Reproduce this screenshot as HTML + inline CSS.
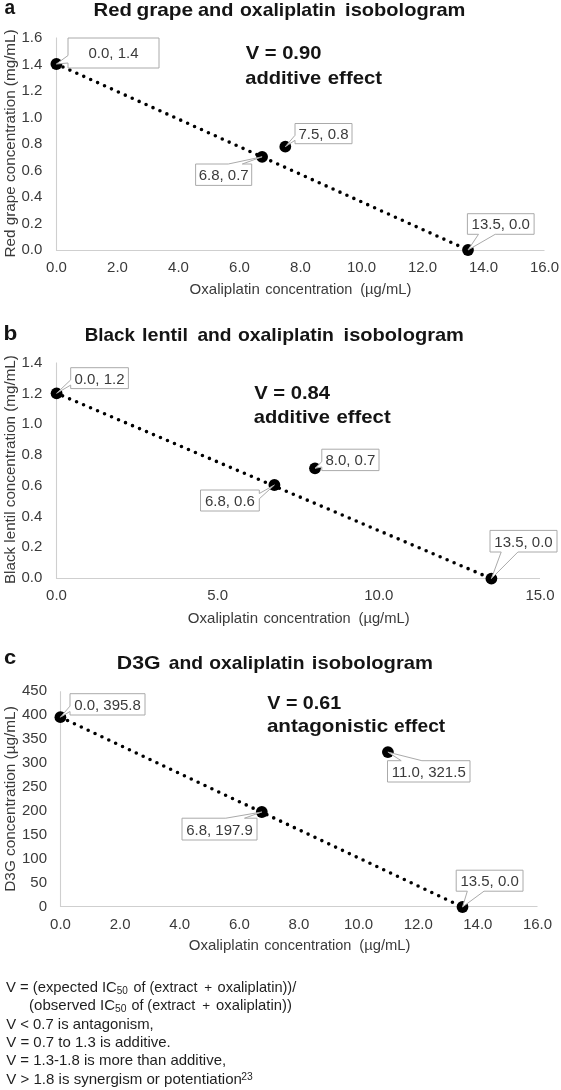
<!DOCTYPE html>
<html><head><meta charset="utf-8"><title>Isobolograms</title>
<style>
html,body{margin:0;padding:0;background:#fff;}
svg{display:block;font-family:"Liberation Sans",sans-serif;filter:grayscale(1);}
</style></head><body>
<svg width="561" height="1090" viewBox="0 0 561 1090">
<rect width="561" height="1090" fill="#fff"/>
<text x="4.44" y="14.30" font-size="19.5" font-weight="bold" fill="#141414" textLength="10.64" lengthAdjust="spacingAndGlyphs">a</text>
<text x="93.54" y="15.80" font-size="18.5" font-weight="bold" fill="#141414" textLength="38.29" lengthAdjust="spacingAndGlyphs">Red</text>
<text x="136.44" y="15.80" font-size="18.5" font-weight="bold" fill="#141414" textLength="56.77" lengthAdjust="spacingAndGlyphs">grape</text>
<text x="198.01" y="15.80" font-size="18.5" font-weight="bold" fill="#141414" textLength="35.50" lengthAdjust="spacingAndGlyphs">and</text>
<text x="240.04" y="15.80" font-size="18.5" font-weight="bold" fill="#141414" textLength="95.76" lengthAdjust="spacingAndGlyphs">oxaliplatin</text>
<text x="345.10" y="15.80" font-size="18.5" font-weight="bold" fill="#141414" textLength="120.34" lengthAdjust="spacingAndGlyphs">isobologram</text>
<path d="M56.5,37.5 V250.5 H544.5" fill="none" stroke="#cfcfcf" stroke-width="1.1"/>
<text x="56.50" y="272.00" font-size="15" text-anchor="middle" font-weight="normal" fill="#3a3a3a" >0.0</text>
<text x="117.50" y="272.00" font-size="15" text-anchor="middle" font-weight="normal" fill="#3a3a3a" >2.0</text>
<text x="178.50" y="272.00" font-size="15" text-anchor="middle" font-weight="normal" fill="#3a3a3a" >4.0</text>
<text x="239.50" y="272.00" font-size="15" text-anchor="middle" font-weight="normal" fill="#3a3a3a" >6.0</text>
<text x="300.50" y="272.00" font-size="15" text-anchor="middle" font-weight="normal" fill="#3a3a3a" >8.0</text>
<text x="361.50" y="272.00" font-size="15" text-anchor="middle" font-weight="normal" fill="#3a3a3a" >10.0</text>
<text x="422.50" y="272.00" font-size="15" text-anchor="middle" font-weight="normal" fill="#3a3a3a" >12.0</text>
<text x="483.50" y="272.00" font-size="15" text-anchor="middle" font-weight="normal" fill="#3a3a3a" >14.0</text>
<text x="544.50" y="272.00" font-size="15" text-anchor="middle" font-weight="normal" fill="#3a3a3a" >16.0</text>
<text x="42.40" y="254.00" font-size="15" text-anchor="end" font-weight="normal" fill="#3a3a3a" >0.0</text>
<text x="42.40" y="228.00" font-size="15" text-anchor="end" font-weight="normal" fill="#3a3a3a" >0.2</text>
<text x="42.40" y="201.00" font-size="15" text-anchor="end" font-weight="normal" fill="#3a3a3a" >0.4</text>
<text x="42.40" y="175.00" font-size="15" text-anchor="end" font-weight="normal" fill="#3a3a3a" >0.6</text>
<text x="42.40" y="148.00" font-size="15" text-anchor="end" font-weight="normal" fill="#3a3a3a" >0.8</text>
<text x="42.40" y="122.00" font-size="15" text-anchor="end" font-weight="normal" fill="#3a3a3a" >1.0</text>
<text x="42.40" y="95.00" font-size="15" text-anchor="end" font-weight="normal" fill="#3a3a3a" >1.2</text>
<text x="42.40" y="69.00" font-size="15" text-anchor="end" font-weight="normal" fill="#3a3a3a" >1.4</text>
<text x="42.40" y="42.00" font-size="15" text-anchor="end" font-weight="normal" fill="#3a3a3a" >1.6</text>
<text x="189.59" y="294.30" font-size="15" font-weight="normal" fill="#3a3a3a" textLength="70.19" lengthAdjust="spacingAndGlyphs">Oxaliplatin</text>
<text x="265.18" y="294.30" font-size="15" font-weight="normal" fill="#3a3a3a" textLength="87.16" lengthAdjust="spacingAndGlyphs">concentration</text>
<text x="360.19" y="294.30" font-size="15" font-weight="normal" fill="#3a3a3a" textLength="51.13" lengthAdjust="spacingAndGlyphs">(µg/mL)</text>
<text transform="translate(15.20,256.20) rotate(-90)" x="-1.25" y="0" font-size="15" font-weight="normal" fill="#3a3a3a" textLength="228.10" lengthAdjust="spacingAndGlyphs">Red grape concentration (mg/mL)</text>
<line x1="56.40" y1="64.00" x2="468.00" y2="250.00" stroke="#000" stroke-width="3.6" stroke-linecap="round" stroke-dasharray="0 7.6" stroke-dashoffset="0.4"/>
<circle cx="56.40" cy="64.00" r="5.9" fill="#000"/>
<circle cx="262.10" cy="156.80" r="5.9" fill="#000"/>
<circle cx="285.30" cy="146.70" r="5.9" fill="#000"/>
<circle cx="468.00" cy="250.00" r="5.9" fill="#000"/>
<path d="M68.0,38.0 L159.0,38.0 L159.0,68.0 L68.0,68.0 L68.0,63.0 L56.4,64.0 L68.0,55.5 Z" fill="#fff" stroke="#aaaaaa" stroke-width="1" stroke-linejoin="miter"/>
<text x="113.50" y="58.40" font-size="15" text-anchor="middle" font-weight="normal" fill="#3a3a3a" >0.0, 1.4</text>
<path d="M195.6,164.0 L228.3,164.0 L262.1,156.8 L242.3,164.0 L251.7,164.0 L251.7,185.4 L195.6,185.4 Z" fill="#fff" stroke="#aaaaaa" stroke-width="1" stroke-linejoin="miter"/>
<text x="223.65" y="180.10" font-size="15" text-anchor="middle" font-weight="normal" fill="#3a3a3a" >6.8, 0.7</text>
<path d="M295.0,123.5 L352.0,123.5 L352.0,143.7 L295.0,143.7 L295.0,140.3 L285.3,146.7 L295.0,135.3 Z" fill="#fff" stroke="#aaaaaa" stroke-width="1" stroke-linejoin="miter"/>
<text x="323.50" y="139.00" font-size="15" text-anchor="middle" font-weight="normal" fill="#3a3a3a" >7.5, 0.8</text>
<path d="M467.4,213.7 L534.1,213.7 L534.1,234.3 L495.2,234.3 L468.0,250.0 L478.5,234.3 L467.4,234.3 Z" fill="#fff" stroke="#aaaaaa" stroke-width="1" stroke-linejoin="miter"/>
<text x="500.75" y="229.40" font-size="15" text-anchor="middle" font-weight="normal" fill="#3a3a3a" >13.5, 0.0</text>
<text x="245.66" y="59.20" font-size="18.5" font-weight="bold" fill="#141414" textLength="75.77" lengthAdjust="spacingAndGlyphs">V = 0.90</text>
<text x="245.21" y="83.50" font-size="18.5" font-weight="bold" fill="#141414" textLength="76.08" lengthAdjust="spacingAndGlyphs">additive</text>
<text x="327.80" y="83.50" font-size="18.5" font-weight="bold" fill="#141414" textLength="54.34" lengthAdjust="spacingAndGlyphs">effect</text>
<text x="3.51" y="339.50" font-size="20" font-weight="bold" fill="#141414" textLength="13.82" lengthAdjust="spacingAndGlyphs">b</text>
<text x="84.74" y="341.20" font-size="18.5" font-weight="bold" fill="#141414" textLength="50.24" lengthAdjust="spacingAndGlyphs">Black</text>
<text x="141.92" y="341.20" font-size="18.5" font-weight="bold" fill="#141414" textLength="46.18" lengthAdjust="spacingAndGlyphs">lentil</text>
<text x="197.44" y="341.20" font-size="18.5" font-weight="bold" fill="#141414" textLength="34.13" lengthAdjust="spacingAndGlyphs">and</text>
<text x="237.94" y="341.20" font-size="18.5" font-weight="bold" fill="#141414" textLength="95.96" lengthAdjust="spacingAndGlyphs">oxaliplatin</text>
<text x="343.60" y="341.20" font-size="18.5" font-weight="bold" fill="#141414" textLength="120.34" lengthAdjust="spacingAndGlyphs">isobologram</text>
<path d="M56.5,362.5 V578.5 H540.0" fill="none" stroke="#cfcfcf" stroke-width="1.1"/>
<text x="56.50" y="600.00" font-size="15" text-anchor="middle" font-weight="normal" fill="#3a3a3a" >0.0</text>
<text x="217.67" y="600.00" font-size="15" text-anchor="middle" font-weight="normal" fill="#3a3a3a" >5.0</text>
<text x="378.83" y="600.00" font-size="15" text-anchor="middle" font-weight="normal" fill="#3a3a3a" >10.0</text>
<text x="540.00" y="600.00" font-size="15" text-anchor="middle" font-weight="normal" fill="#3a3a3a" >15.0</text>
<text x="42.40" y="582.00" font-size="15" text-anchor="end" font-weight="normal" fill="#3a3a3a" >0.0</text>
<text x="42.40" y="551.00" font-size="15" text-anchor="end" font-weight="normal" fill="#3a3a3a" >0.2</text>
<text x="42.40" y="521.00" font-size="15" text-anchor="end" font-weight="normal" fill="#3a3a3a" >0.4</text>
<text x="42.40" y="490.00" font-size="15" text-anchor="end" font-weight="normal" fill="#3a3a3a" >0.6</text>
<text x="42.40" y="459.00" font-size="15" text-anchor="end" font-weight="normal" fill="#3a3a3a" >0.8</text>
<text x="42.40" y="428.00" font-size="15" text-anchor="end" font-weight="normal" fill="#3a3a3a" >1.0</text>
<text x="42.40" y="398.00" font-size="15" text-anchor="end" font-weight="normal" fill="#3a3a3a" >1.2</text>
<text x="42.40" y="367.00" font-size="15" text-anchor="end" font-weight="normal" fill="#3a3a3a" >1.4</text>
<text x="187.89" y="623.00" font-size="15" font-weight="normal" fill="#3a3a3a" textLength="70.19" lengthAdjust="spacingAndGlyphs">Oxaliplatin</text>
<text x="263.48" y="623.00" font-size="15" font-weight="normal" fill="#3a3a3a" textLength="87.16" lengthAdjust="spacingAndGlyphs">concentration</text>
<text x="358.49" y="623.00" font-size="15" font-weight="normal" fill="#3a3a3a" textLength="51.13" lengthAdjust="spacingAndGlyphs">(µg/mL)</text>
<text transform="translate(15.20,582.80) rotate(-90)" x="-1.25" y="0" font-size="15" font-weight="normal" fill="#3a3a3a" textLength="228.89" lengthAdjust="spacingAndGlyphs">Black lentil concentration (mg/mL)</text>
<line x1="56.60" y1="393.30" x2="491.40" y2="578.60" stroke="#000" stroke-width="3.6" stroke-linecap="round" stroke-dasharray="0 7.6" stroke-dashoffset="1.1"/>
<circle cx="56.60" cy="393.30" r="5.9" fill="#000"/>
<circle cx="274.40" cy="485.00" r="5.9" fill="#000"/>
<circle cx="315.00" cy="468.30" r="5.9" fill="#000"/>
<circle cx="491.40" cy="578.60" r="5.9" fill="#000"/>
<path d="M70.7,367.7 L128.4,367.7 L128.4,388.6 L70.7,388.6 L70.7,385.1 L56.6,393.3 L70.7,379.9 Z" fill="#fff" stroke="#aaaaaa" stroke-width="1" stroke-linejoin="miter"/>
<text x="99.55" y="383.55" font-size="15" text-anchor="middle" font-weight="normal" fill="#3a3a3a" >0.0, 1.2</text>
<path d="M200.5,490.0 L259.3,490.0 L259.3,493.5 L274.4,485.0 L259.3,498.8 L259.3,511.0 L200.5,511.0 Z" fill="#fff" stroke="#aaaaaa" stroke-width="1" stroke-linejoin="miter"/>
<text x="229.90" y="505.90" font-size="15" text-anchor="middle" font-weight="normal" fill="#3a3a3a" >6.8, 0.6</text>
<path d="M321.8,449.2 L379.0,449.2 L379.0,470.6 L321.8,470.6 L321.8,467.0 L315.0,468.3 L321.8,461.7 Z" fill="#fff" stroke="#aaaaaa" stroke-width="1" stroke-linejoin="miter"/>
<text x="350.40" y="465.30" font-size="15" text-anchor="middle" font-weight="normal" fill="#3a3a3a" >8.0, 0.7</text>
<path d="M490.0,530.4 L557.0,530.4 L557.0,552.0 L517.9,552.0 L491.4,578.6 L501.2,552.0 L490.0,552.0 Z" fill="#fff" stroke="#aaaaaa" stroke-width="1" stroke-linejoin="miter"/>
<text x="523.50" y="546.60" font-size="15" text-anchor="middle" font-weight="normal" fill="#3a3a3a" >13.5, 0.0</text>
<text x="254.26" y="399.20" font-size="18.5" font-weight="bold" fill="#141414" textLength="75.85" lengthAdjust="spacingAndGlyphs">V = 0.84</text>
<text x="253.81" y="422.90" font-size="18.5" font-weight="bold" fill="#141414" textLength="76.08" lengthAdjust="spacingAndGlyphs">additive</text>
<text x="336.40" y="422.90" font-size="18.5" font-weight="bold" fill="#141414" textLength="54.34" lengthAdjust="spacingAndGlyphs">effect</text>
<text x="4.14" y="664.40" font-size="21" font-weight="bold" fill="#141414" textLength="12.20" lengthAdjust="spacingAndGlyphs">c</text>
<text x="116.88" y="668.60" font-size="18.5" font-weight="bold" fill="#141414" textLength="43.74" lengthAdjust="spacingAndGlyphs">D3G</text>
<text x="168.74" y="668.60" font-size="18.5" font-weight="bold" fill="#141414" textLength="34.23" lengthAdjust="spacingAndGlyphs">and</text>
<text x="209.25" y="668.60" font-size="18.5" font-weight="bold" fill="#141414" textLength="95.25" lengthAdjust="spacingAndGlyphs">oxaliplatin</text>
<text x="311.89" y="668.60" font-size="18.5" font-weight="bold" fill="#141414" textLength="121.06" lengthAdjust="spacingAndGlyphs">isobologram</text>
<path d="M60.5,691.2 V906.5 H537.5" fill="none" stroke="#cfcfcf" stroke-width="1.1"/>
<text x="60.50" y="929.00" font-size="15" text-anchor="middle" font-weight="normal" fill="#3a3a3a" >0.0</text>
<text x="120.12" y="929.00" font-size="15" text-anchor="middle" font-weight="normal" fill="#3a3a3a" >2.0</text>
<text x="179.75" y="929.00" font-size="15" text-anchor="middle" font-weight="normal" fill="#3a3a3a" >4.0</text>
<text x="239.38" y="929.00" font-size="15" text-anchor="middle" font-weight="normal" fill="#3a3a3a" >6.0</text>
<text x="299.00" y="929.00" font-size="15" text-anchor="middle" font-weight="normal" fill="#3a3a3a" >8.0</text>
<text x="358.62" y="929.00" font-size="15" text-anchor="middle" font-weight="normal" fill="#3a3a3a" >10.0</text>
<text x="418.25" y="929.00" font-size="15" text-anchor="middle" font-weight="normal" fill="#3a3a3a" >12.0</text>
<text x="477.88" y="929.00" font-size="15" text-anchor="middle" font-weight="normal" fill="#3a3a3a" >14.0</text>
<text x="537.50" y="929.00" font-size="15" text-anchor="middle" font-weight="normal" fill="#3a3a3a" >16.0</text>
<text x="47.00" y="911.00" font-size="15" text-anchor="end" font-weight="normal" fill="#3a3a3a" >0</text>
<text x="47.00" y="887.00" font-size="15" text-anchor="end" font-weight="normal" fill="#3a3a3a" >50</text>
<text x="47.00" y="863.00" font-size="15" text-anchor="end" font-weight="normal" fill="#3a3a3a" >100</text>
<text x="47.00" y="839.00" font-size="15" text-anchor="end" font-weight="normal" fill="#3a3a3a" >150</text>
<text x="47.00" y="815.00" font-size="15" text-anchor="end" font-weight="normal" fill="#3a3a3a" >200</text>
<text x="47.00" y="791.00" font-size="15" text-anchor="end" font-weight="normal" fill="#3a3a3a" >250</text>
<text x="47.00" y="767.00" font-size="15" text-anchor="end" font-weight="normal" fill="#3a3a3a" >300</text>
<text x="47.00" y="743.00" font-size="15" text-anchor="end" font-weight="normal" fill="#3a3a3a" >350</text>
<text x="47.00" y="719.00" font-size="15" text-anchor="end" font-weight="normal" fill="#3a3a3a" >400</text>
<text x="47.00" y="695.00" font-size="15" text-anchor="end" font-weight="normal" fill="#3a3a3a" >450</text>
<text x="188.69" y="949.90" font-size="15" font-weight="normal" fill="#3a3a3a" textLength="70.19" lengthAdjust="spacingAndGlyphs">Oxaliplatin</text>
<text x="264.28" y="949.90" font-size="15" font-weight="normal" fill="#3a3a3a" textLength="87.16" lengthAdjust="spacingAndGlyphs">concentration</text>
<text x="359.29" y="949.90" font-size="15" font-weight="normal" fill="#3a3a3a" textLength="51.13" lengthAdjust="spacingAndGlyphs">(µg/mL)</text>
<text transform="translate(15.00,890.50) rotate(-90)" x="-1.26" y="0" font-size="15" font-weight="normal" fill="#3a3a3a" textLength="185.51" lengthAdjust="spacingAndGlyphs">D3G concentration (µg/mL)</text>
<line x1="60.40" y1="717.20" x2="462.50" y2="907.00" stroke="#000" stroke-width="3.6" stroke-linecap="round" stroke-dasharray="0 7.6" stroke-dashoffset="-0.3"/>
<circle cx="60.40" cy="717.20" r="5.9" fill="#000"/>
<circle cx="261.80" cy="812.00" r="5.9" fill="#000"/>
<circle cx="387.90" cy="752.10" r="5.9" fill="#000"/>
<circle cx="462.50" cy="907.00" r="5.9" fill="#000"/>
<path d="M70.0,693.7 L145.0,693.7 L145.0,715.0 L70.0,715.0 L70.0,711.5 L60.4,717.2 L70.0,706.1 Z" fill="#fff" stroke="#aaaaaa" stroke-width="1" stroke-linejoin="miter"/>
<text x="107.50" y="709.75" font-size="15" text-anchor="middle" font-weight="normal" fill="#3a3a3a" >0.0, 395.8</text>
<path d="M182.0,818.2 L225.8,818.2 L261.8,812.0 L244.5,818.2 L257.0,818.2 L257.0,840.0 L182.0,840.0 Z" fill="#fff" stroke="#aaaaaa" stroke-width="1" stroke-linejoin="miter"/>
<text x="219.50" y="834.50" font-size="15" text-anchor="middle" font-weight="normal" fill="#3a3a3a" >6.8, 197.9</text>
<path d="M387.5,760.7 L401.2,760.7 L387.9,752.1 L421.9,760.7 L470.0,760.7 L470.0,782.0 L387.5,782.0 Z" fill="#fff" stroke="#aaaaaa" stroke-width="1" stroke-linejoin="miter"/>
<text x="428.75" y="776.75" font-size="15" text-anchor="middle" font-weight="normal" fill="#3a3a3a" >11.0, 321.5</text>
<path d="M456.2,870.2 L523.0,870.2 L523.0,891.2 L484.0,891.2 L462.5,907.0 L467.3,891.2 L456.2,891.2 Z" fill="#fff" stroke="#aaaaaa" stroke-width="1" stroke-linejoin="miter"/>
<text x="489.60" y="886.10" font-size="15" text-anchor="middle" font-weight="normal" fill="#3a3a3a" >13.5, 0.0</text>
<text x="267.37" y="709.20" font-size="18.5" font-weight="bold" fill="#141414" textLength="73.78" lengthAdjust="spacingAndGlyphs">V = 0.61</text>
<text x="266.90" y="732.40" font-size="18.5" font-weight="bold" fill="#141414" textLength="121.31" lengthAdjust="spacingAndGlyphs">antagonistic</text>
<text x="394.05" y="732.40" font-size="18.5" font-weight="bold" fill="#141414" textLength="51.18" lengthAdjust="spacingAndGlyphs">effect</text>
<text x="5.93" y="992.40" font-size="15" font-weight="normal" fill="#1e1e1e" textLength="110.93" lengthAdjust="spacingAndGlyphs">V = (expected IC</text>
<text x="116.70" y="994.30" font-size="10" font-weight="normal" fill="#1e1e1e" textLength="11.09" lengthAdjust="spacingAndGlyphs">50</text>
<text x="133.60" y="992.40" font-size="15" font-weight="normal" fill="#1e1e1e" textLength="63.81" lengthAdjust="spacingAndGlyphs">of (extract</text>
<text x="208.20" y="992.40" font-size="13.5" text-anchor="middle" font-weight="normal" fill="#1e1e1e" >+</text>
<text x="217.59" y="992.40" font-size="15" font-weight="normal" fill="#1e1e1e" textLength="78.71" lengthAdjust="spacingAndGlyphs">oxaliplatin))/</text>
<text x="29.07" y="1010.40" font-size="15" font-weight="normal" fill="#1e1e1e" textLength="86.00" lengthAdjust="spacingAndGlyphs">(observed IC</text>
<text x="114.99" y="1012.30" font-size="10" font-weight="normal" fill="#1e1e1e" textLength="11.52" lengthAdjust="spacingAndGlyphs">50</text>
<text x="131.40" y="1010.40" font-size="15" font-weight="normal" fill="#1e1e1e" textLength="63.91" lengthAdjust="spacingAndGlyphs">of (extract</text>
<text x="206.30" y="1010.40" font-size="13.5" text-anchor="middle" font-weight="normal" fill="#1e1e1e" >+</text>
<text x="216.08" y="1010.40" font-size="15" font-weight="normal" fill="#1e1e1e" textLength="75.74" lengthAdjust="spacingAndGlyphs">oxaliplatin))</text>
<text x="6.23" y="1028.80" font-size="15" font-weight="normal" fill="#1e1e1e" textLength="147.50" lengthAdjust="spacingAndGlyphs">V &lt; 0.7 is antagonism,</text>
<text x="6.23" y="1046.80" font-size="15" font-weight="normal" fill="#1e1e1e" textLength="164.53" lengthAdjust="spacingAndGlyphs">V = 0.7 to 1.3 is additive.</text>
<text x="6.23" y="1064.70" font-size="15" font-weight="normal" fill="#1e1e1e" textLength="219.91" lengthAdjust="spacingAndGlyphs">V = 1.3-1.8 is more than additive,</text>
<text x="6.23" y="1083.60" font-size="15" font-weight="normal" fill="#1e1e1e" textLength="235.74" lengthAdjust="spacingAndGlyphs">V &gt; 1.8 is synergism or potentiation</text>
<text x="241.28" y="1079.80" font-size="10" font-weight="normal" fill="#1e1e1e" textLength="11.47" lengthAdjust="spacingAndGlyphs">23</text>
</svg>
</body></html>
